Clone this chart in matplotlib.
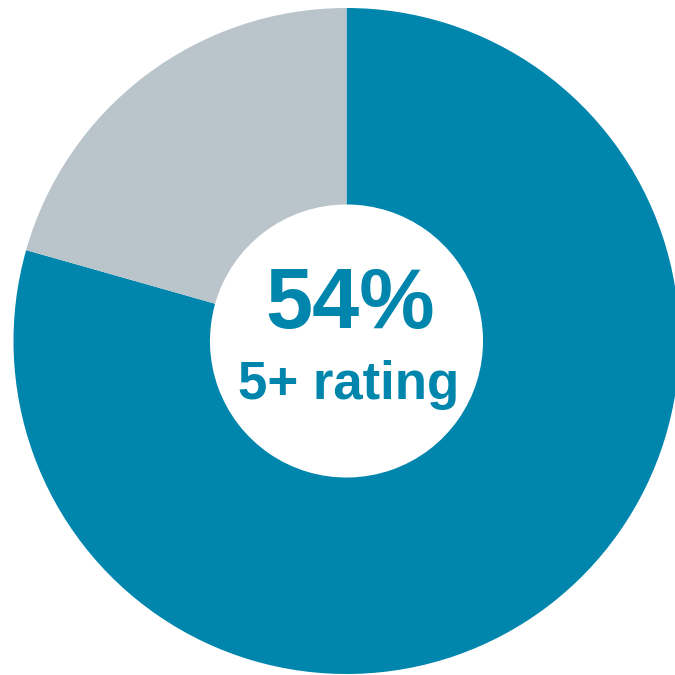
import matplotlib
matplotlib.use("Agg")
import matplotlib.pyplot as plt

# donut shares (blue = rated, grey = rest)
labels = ['rated', 'other']
shares = [79.4, 20.6]
colors = ['#0085ad', '#bac4cb']
big_text = '54%'
small_text = '5+ rating'

fig = plt.figure(figsize=(6.75, 6.75), dpi=100)
r = 333 / 675
cx, cy = 346.5 / 675, (675 - 341) / 675
ax = fig.add_axes([cx - r, cy - r, 2 * r, 2 * r])

ax.pie(shares, colors=colors, startangle=90, counterclock=False, radius=1,
       wedgeprops=dict(width=0.59, linewidth=0))
ax.set_xlim(-1, 1)
ax.set_ylim(-1, 1)
ax.set_aspect('equal')
ax.axis('off')

ax.text(0.01, 0.039, big_text, ha='center', va='baseline', fontsize=61,
        fontweight='bold', color=colors[0], family='Liberation Sans')
ax.text(0.0075, -0.174, small_text, ha='center', va='baseline', fontsize=38,
        fontweight='bold', color=colors[0], family='Liberation Sans')

fig.savefig('out.png', dpi=100)
